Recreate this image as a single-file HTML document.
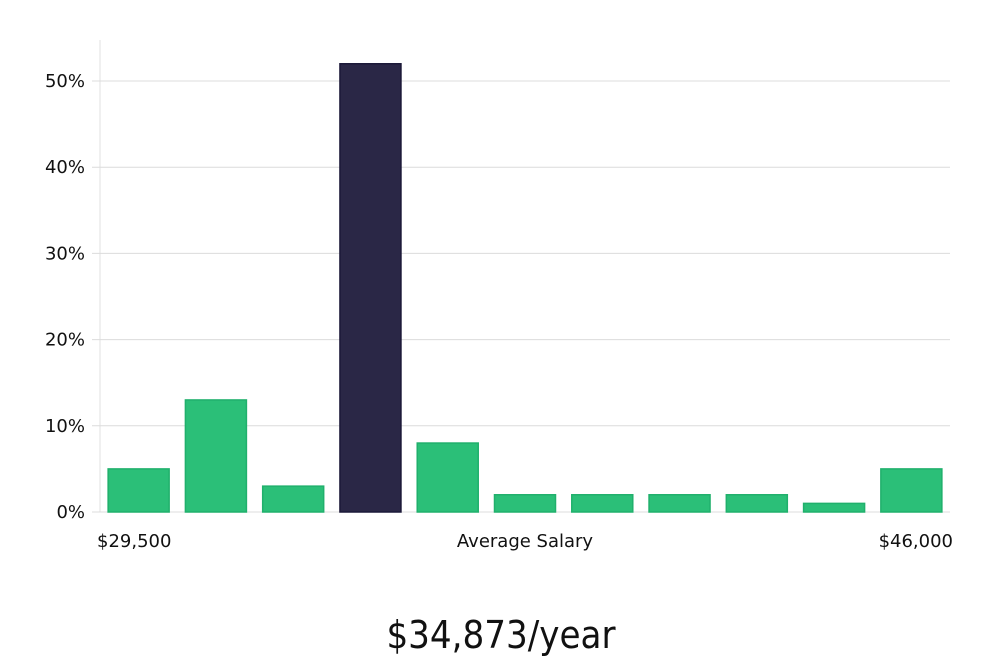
<!DOCTYPE html>
<html><head><meta charset="utf-8"><style>
html,body{margin:0;padding:0;background:#fff;width:1000px;height:660px;overflow:hidden}
svg text{font-family:"DejaVu Sans","Liberation Sans",sans-serif}
</style></head><body>
<svg id="chart" width="1000" height="660" xmlns="http://www.w3.org/2000/svg">
<g id="grid"></g><g id="bars"></g><g id="labels"></g>
<text x="501" y="648" text-anchor="middle" font-size="38" fill="#111" style="font-family:'Liberation Sans Narrow','DejaVu Sans Condensed','Liberation Sans',sans-serif">$34,873/year</text>
</svg>
<script>
const categories=["b1","b2","b3","b4","b5","b6","b7","b8","b9","b10","b11"];
const values=[5,13,3,52,8,2,2,2,2,1,5];
const highlightIndex=3;
const yTicks=[0,10,20,30,40,50];
const xLabels=["$29,500","Average Salary","$46,000"];
const NS="http://www.w3.org/2000/svg";
const x0=100,x1=950,y0=512,yPer=8.62;
const y=v=>y0-v*yPer;
const step=(x1-x0)/categories.length;
const bw=62;
function mk(t,a,p){const e=document.createElementNS(NS,t);for(const k in a)e.setAttribute(k,a[k]);p.appendChild(e);return e;}
const grid=document.getElementById('grid'),bars=document.getElementById('bars'),lab=document.getElementById('labels');
const ax=mk('line',{x1:x0,x2:x0,y1:40,y2:y0,stroke:'#e0e0e0'},grid);


yTicks.forEach(t=>{
 const l=mk('line',{x1:x0-8,x2:x1,y1:y(t),y2:y(t),stroke:'#dcdcdc'},grid);
 
 
 const tx=mk('text',{x:85,y:y(t)+6,'text-anchor':'end','font-size':18,fill:'#111'},lab);
 tx.textContent=t+'%';
 
 
});
categories.forEach((c,i)=>{
 const hi=i===highlightIndex;
 const cx=x0+step*(i+0.5);
 const r=mk('rect',{x:cx-bw/2+0.5,y:y(values[i]),width:bw-1,height:y0-y(values[i]),fill:hi?'#2a2746':'#2bbf78',stroke:hi?'#1b1838':'#20b06c','stroke-width':1.5},bars);
 
 
});
const xl=[[97,'start'],[525,'middle'],[953,'end']];
xLabels.forEach((s,i)=>{
 const t=mk('text',{x:xl[i][0],y:547,'text-anchor':xl[i][1],'font-size':18,fill:'#111'},lab);
 t.textContent=s;
 
 
});
</script>
</body></html>
